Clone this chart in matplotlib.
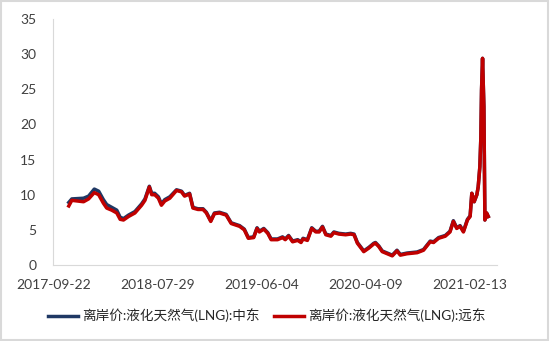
import numpy as np
import pandas as pd
import matplotlib
matplotlib.use("Agg")
import matplotlib.pyplot as plt
from matplotlib.patches import Rectangle

plt.rcParams['font.family'] = ['Lato', 'Noto Sans CJK SC', 'DejaVu Sans']

start = pd.Timestamp("2017-09-22")
# days after 2017-09-22 for each reading
days = [44, 53, 88, 103, 120, 133, 147, 157, 172, 187, 197, 207, 222, 241, 261, 271,
        284, 291, 300, 311, 320, 330, 345, 365, 380, 389, 404, 414, 429, 444, 454, 467,
        478, 493, 513, 528, 553, 567, 579, 595, 605, 612, 625, 637, 647, 666, 681, 689,
        699, 711, 726, 736, 742, 755, 768, 780, 790, 800, 810, 825, 834, 849, 869, 884,
        894, 904, 923, 938, 953, 958, 968, 978, 993, 1008, 1022, 1032, 1052, 1082, 1101,
        1121, 1131, 1146, 1166, 1180, 1190, 1200, 1210, 1220, 1232, 1240, 1245, 1252,
        1260, 1264, 1269, 1272, 1274, 1277, 1281, 1284, 1289, 1294]

far_east = [8.4, 9.2, 9.0, 9.4, 10.3, 10.0, 8.8, 8.1, 7.8, 7.4, 6.5, 6.4, 6.9, 7.4, 8.5, 9.2,
            11.1, 10.0, 10.0, 9.5, 8.5, 9.1, 9.5, 10.6, 10.4, 9.8, 10.1, 8.1, 7.9, 7.9, 7.4, 6.2,
            7.3, 7.4, 7.1, 5.9, 5.5, 5.0, 3.8, 3.9, 5.2, 4.7, 5.1, 4.5, 3.6, 3.6, 3.9, 3.6,
            4.1, 3.3, 3.5, 3.2, 3.7, 3.5, 5.2, 4.7, 4.7, 5.4, 4.3, 4.1, 4.6, 4.4, 4.3, 4.4,
            4.3, 3.1, 1.9, 2.4, 3.0, 3.1, 2.6, 1.9, 1.6, 1.3, 2.0, 1.4, 1.6, 1.75, 2.1,
            3.3, 3.2, 3.8, 4.1, 4.7, 6.2, 5.2, 5.5, 4.7, 6.4, 6.9, 10.2, 9.0,
            10.0, 11.1, 14.0, 18.2, 24.9, 29.4, 22.5, 6.4, 7.4, 6.9]

middle_east = [8.9, 9.4, 9.5, 9.8, 10.8, 10.5, 9.3, 8.6, 8.2, 7.8, 6.8, 6.6, 7.1, 7.6, 8.7, 9.4,
               11.2, 10.2, 10.2, 9.7, 8.7, 9.3, 9.7, 10.7, 10.5, 9.9, 10.2, 8.2, 8.0, 8.0, 7.5, 6.3,
               7.4, 7.5, 7.2, 6.0, 5.6, 5.1, 3.9, 4.0, 5.3, 4.8, 5.2, 4.6, 3.7, 3.7, 4.0, 3.7,
               4.2, 3.4, 3.6, 3.3, 3.8, 3.6, 5.3, 4.8, 4.8, 5.5, 4.4, 4.2, 4.7, 4.5, 4.4, 4.5,
               4.4, 3.2, 2.0, 2.5, 3.1, 3.2, 2.7, 2.0, 1.7, 1.4, 2.1, 1.5, 1.7, 1.85, 2.2,
               3.4, 3.3, 3.9, 4.2, 4.8, 6.3, 5.3, 5.6, 4.8, 6.5, 7.0, 10.2, 9.0,
               10.0, 11.1, 14.0, 18.2, 24.9, 29.4, 22.5, 6.4, 7.4, 6.9]

tick_labels = ["2017-09-22", "2018-07-29", "2019-06-04", "2020-04-09", "2021-02-13"]
names = ["离岸价:液化天然气(LNG):中东", "离岸价:液化天然气(LNG):远东"]

dates = start + pd.to_timedelta(days, unit="D")
ticks = pd.to_datetime(tick_labels)

fig = plt.figure(figsize=(5.5, 3.41), dpi=100)
ax = fig.add_axes([0.0964, 0.2229, 0.8072, 0.7214])

ax.plot(dates, middle_east, color="#1F3864", lw=2.5, label=names[0], solid_joinstyle="round")
ax.plot(dates, far_east, color="#C00000", lw=2.5, label=names[1], solid_joinstyle="round")

ax.set_ylim(0, 35)
ax.set_yticks(range(0, 36, 5))
ax.set_xlim(start - pd.Timedelta(days=3), start + pd.Timedelta(days=1320))
ax.set_xticks(ticks)
ax.set_xticklabels(tick_labels)

for s in ["top", "right"]:
    ax.spines[s].set_visible(False)
ax.spines["left"].set_color("#D9D9D9")
ax.spines["bottom"].set_color("#D9D9D9")
ax.tick_params(length=0, labelsize=10, colors="#404040")
ax.tick_params(axis="y", pad=12)
ax.tick_params(axis="x", pad=10)

leg = fig.legend(loc="center", bbox_to_anchor=(0.485, 0.075), ncol=2, frameon=False,
                 fontsize=9.8, handlelength=2.2, columnspacing=1.1, handletextpad=0.3)
for t in leg.get_texts():
    t.set_color("#262626")

fig.patches.append(Rectangle((0.002, 0.003), 0.995, 0.994, transform=fig.transFigure,
                             fill=False, edgecolor="#D9D9D9", lw=1.5))

fig.savefig("out.png", dpi=100)
